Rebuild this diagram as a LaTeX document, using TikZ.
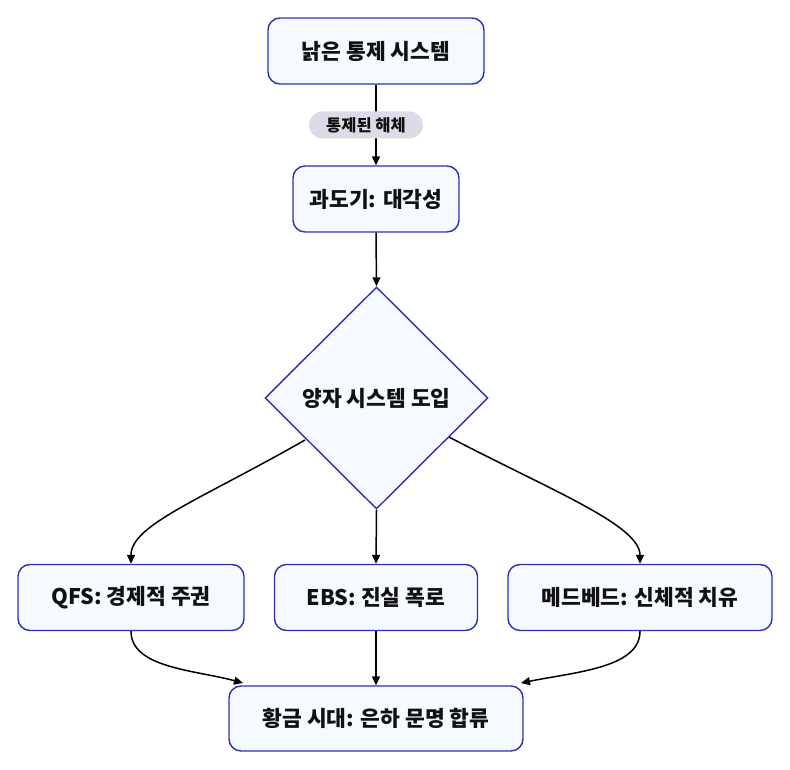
\documentclass[tikz,border=0pt]{standalone}
\usepackage{fontspec}
\setmainfont{Noto Sans CJK KR}
\usetikzlibrary{arrows.meta,shapes.geometric}
\definecolor{boxfill}{HTML}{F4FAFF}
\definecolor{boxdraw}{HTML}{2F2FB0}
\definecolor{lblfill}{HTML}{DCDCE8}
\definecolor{txt}{HTML}{111111}
\begin{document}
\begin{tikzpicture}[x=1pt,y=-1pt,
  box/.style={draw=boxdraw,fill=boxfill,line width=1.4pt,rounded corners=12pt,
    minimum height=66pt,inner sep=0pt,text=txt,font=\fontsize{21.5}{24}\selectfont\bfseries},
  dia/.style={draw=boxdraw,fill=boxfill,line width=1.4pt,diamond,aspect=1,
    minimum width=223pt,minimum height=222pt,inner sep=0pt,text=txt,font=\fontsize{21.5}{24}\selectfont\bfseries},
  lbl/.style={fill=lblfill,rounded corners=13.5pt,minimum height=27pt,minimum width=114pt,
    inner sep=0pt,text=txt,font=\fontsize{16.5}{18}\selectfont\bfseries},
  conn/.style={line width=1.5pt,-{Triangle[length=9pt,width=8pt]}}]
\useasboundingbox (0,0) rectangle (790,770);
\node[box,minimum width=216pt] (top) at (376,51) {낡은 통제 시스템};
\node[box,minimum width=166pt] (trans) at (376,199) {과도기: 대각성};
\node[dia] (quant) at (376.5,398) {양자 시스템 도입};
\node[box,minimum width=226pt] (qfs) at (131,597.5) {QFS: 경제적 주권};
\node[box,minimum width=203pt] (ebs) at (376,597.5) {EBS: 진실 폭로};
\node[box,minimum width=264pt] (med) at (640,597.5) {메드베드: 신체적 치유};
\node[box,minimum width=294pt,minimum height=65pt] (gold) at (376,718.5) {황금 시대: 은하 문명 합류};
\draw[line width=1.5pt] (top.south) -- (376,112);
\draw[conn] (376,138) -- (trans.north);
\node[lbl] (lab) at (366,125) {통제된 해체};
\draw[conn] (trans.south) -- (quant.north);
\coordinate (qL) at (305,440);
\coordinate (qR) at (449,437);
\draw[conn] (qL) .. controls (200,500) and (131,525) .. (qfs.north);
\draw[conn] (quant.south) -- (ebs.north);
\draw[conn] (qR) .. controls (550,490) and (640,525) .. (med.north);
\coordinate (gL) at (243,683);
\coordinate (gR) at (521,683);
\draw[conn] (qfs.south) .. controls (131,668) and (195,670) .. (gL);
\draw[conn] (ebs.south) -- (gold.north);
\draw[conn] (med.south) .. controls (640,668) and (575,672) .. (gR);
\end{tikzpicture}
\end{document}
